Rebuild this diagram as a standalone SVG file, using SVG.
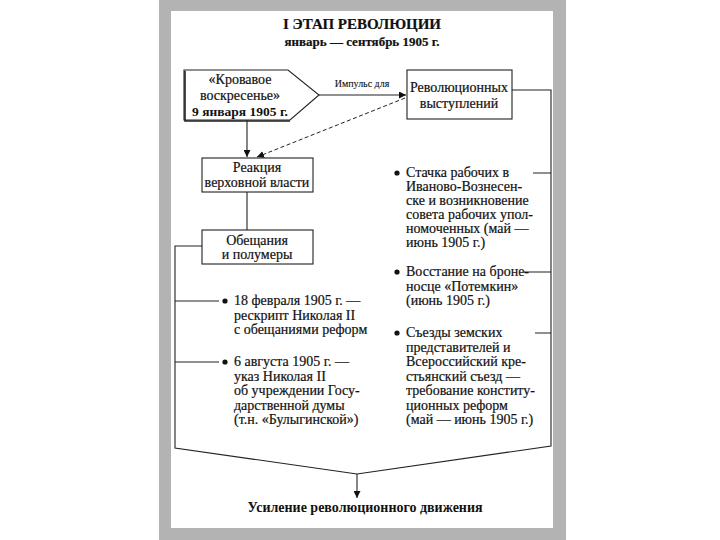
<svg xmlns="http://www.w3.org/2000/svg" width="720" height="540" viewBox="0 0 720 540">
<defs>
<style>
.t{font-family:"Liberation Serif","Times New Roman",serif;font-size:14px;fill:#111;stroke:#111;stroke-width:0.2}
.c{text-anchor:middle}
.b{font-weight:bold}
.box{fill:#fff;stroke:#222;stroke-width:1.1}
.ln{fill:none;stroke:#222;stroke-width:1.1}
.dash{fill:none;stroke:#222;stroke-width:1;stroke-dasharray:4 2.5}
.dot{fill:#111}
</style>
<marker id="ah" viewBox="0 0 10 10" refX="10" refY="5" markerWidth="7" markerHeight="7" orient="auto" markerUnits="userSpaceOnUse">
<path d="M0,0 L10,5 L0,10 z" fill="#111"/>
</marker>
</defs>
<rect x="0" y="0" width="720" height="540" fill="#fff"/>
<rect x="159" y="0" width="407" height="540" fill="#b3b3b3"/>
<rect x="171" y="11" width="382" height="517" fill="#fff"/>

<g id="title">
<text class="t c b" x="362" y="29" style="font-size:15px">I ЭТАП РЕВОЛЮЦИИ</text>
<text class="t c b" x="362" y="46" style="font-size:13px">январь — сентябрь 1905 г.</text>
</g>

<g id="connectors">
<path class="ln" d="M319,95 L406,95" marker-end="url(#ah)"/>
<path class="dash" d="M405,98 L257,157" marker-end="url(#ah)"/>
<path class="ln" d="M247,120 L247,157" marker-end="url(#ah)"/>
<path class="ln" d="M247,192 L247,230"/>
<path class="ln" d="M202,246 L175,246 L175,448 L357,474 L551,446 L551,90 L512,90"/>
<path class="ln" d="M357,474 L357,498" marker-end="url(#ah)"/>
<path class="ln" d="M175,301 L219,301 M175,362 L219,362"/>
<path class="ln" d="M533,173 L551,173 M524,272 L551,272 M535,333 L551,333"/>
<text class="t c" x="362" y="87" style="font-size:10px;stroke-width:0.1">Импульс для</text>
</g>

<g id="bloody-sunday">
<path class="box" d="M184,70 L288,70 L319,95 L290,120 L184,120 Z"/>
<path class="ln" d="M185,71 L185,121 L290,121" style="stroke-width:1.6"/>
<text class="t c" x="240" y="84">«Кровавое</text>
<text class="t c" x="240" y="100">воскресенье»</text>
<text class="t c b" x="240" y="116" style="font-size:13.5px;stroke-width:0">9 января 1905 г.</text>
</g>

<g id="rev-actions">
<rect class="box" x="407" y="70" width="105" height="49"/>
<text class="t c" x="459" y="92">Революционных</text>
<text class="t c" x="459" y="108">выступлений</text>
</g>

<g id="reaction">
<rect class="box" x="202" y="158" width="111" height="34"/>
<text class="t c" x="257" y="172">Реакция</text>
<text class="t c" x="257" y="187">верховной власти</text>
</g>

<g id="promises">
<rect class="box" x="202" y="230" width="111" height="34"/>
<text class="t c" x="257" y="245">Обещания</text>
<text class="t c" x="257" y="259">и полумеры</text>
</g>

<g id="left-list">
<circle class="dot" cx="225" cy="301" r="2.6"/>
<text class="t" x="234" y="305">18 февраля 1905 г. —</text>
<text class="t" x="234" y="319.5">рескрипт Николая II</text>
<text class="t" x="234" y="334">с обещаниями реформ</text>
<circle class="dot" cx="225" cy="362" r="2.6"/>
<text class="t" x="234" y="366">6 августа 1905 г. —</text>
<text class="t" x="234" y="380.5">указ Николая II</text>
<text class="t" x="234" y="395">об учреждении Госу-</text>
<text class="t" x="234" y="409.5">дарственной думы</text>
<text class="t" x="234" y="424">(т.н. «Булыгинской»)</text>
</g>

<g id="right-list">
<circle class="dot" cx="397" cy="173" r="2.6"/>
<text class="t" x="406" y="177">Стачка рабочих в</text>
<text class="t" x="406" y="191">Иваново-Вознесен-</text>
<text class="t" x="406" y="205">ске и возникновение</text>
<text class="t" x="406" y="219">совета рабочих упол-</text>
<text class="t" x="406" y="233">номоченных (май —</text>
<text class="t" x="406" y="247">июнь 1905 г.)</text>
<circle class="dot" cx="397" cy="272" r="2.6"/>
<text class="t" x="406" y="276">Восстание на броне-</text>
<text class="t" x="406" y="290.5">носце «Потемкин»</text>
<text class="t" x="406" y="305">(июнь 1905 г.)</text>
<circle class="dot" cx="397" cy="333" r="2.6"/>
<text class="t" x="406" y="337">Съезды земских</text>
<text class="t" x="406" y="351.5">представителей и</text>
<text class="t" x="406" y="366">Всероссийский кре-</text>
<text class="t" x="406" y="380.5">стьянский съезд —</text>
<text class="t" x="406" y="395">требование конститу-</text>
<text class="t" x="406" y="409.5">ционных реформ</text>
<text class="t" x="406" y="424">(май — июнь 1905 г.)</text>
</g>

<g id="result">
<text class="t c b" x="365" y="512" style="font-size:14px;stroke-width:0">Усиление революционного движения</text>
</g>
</svg>
